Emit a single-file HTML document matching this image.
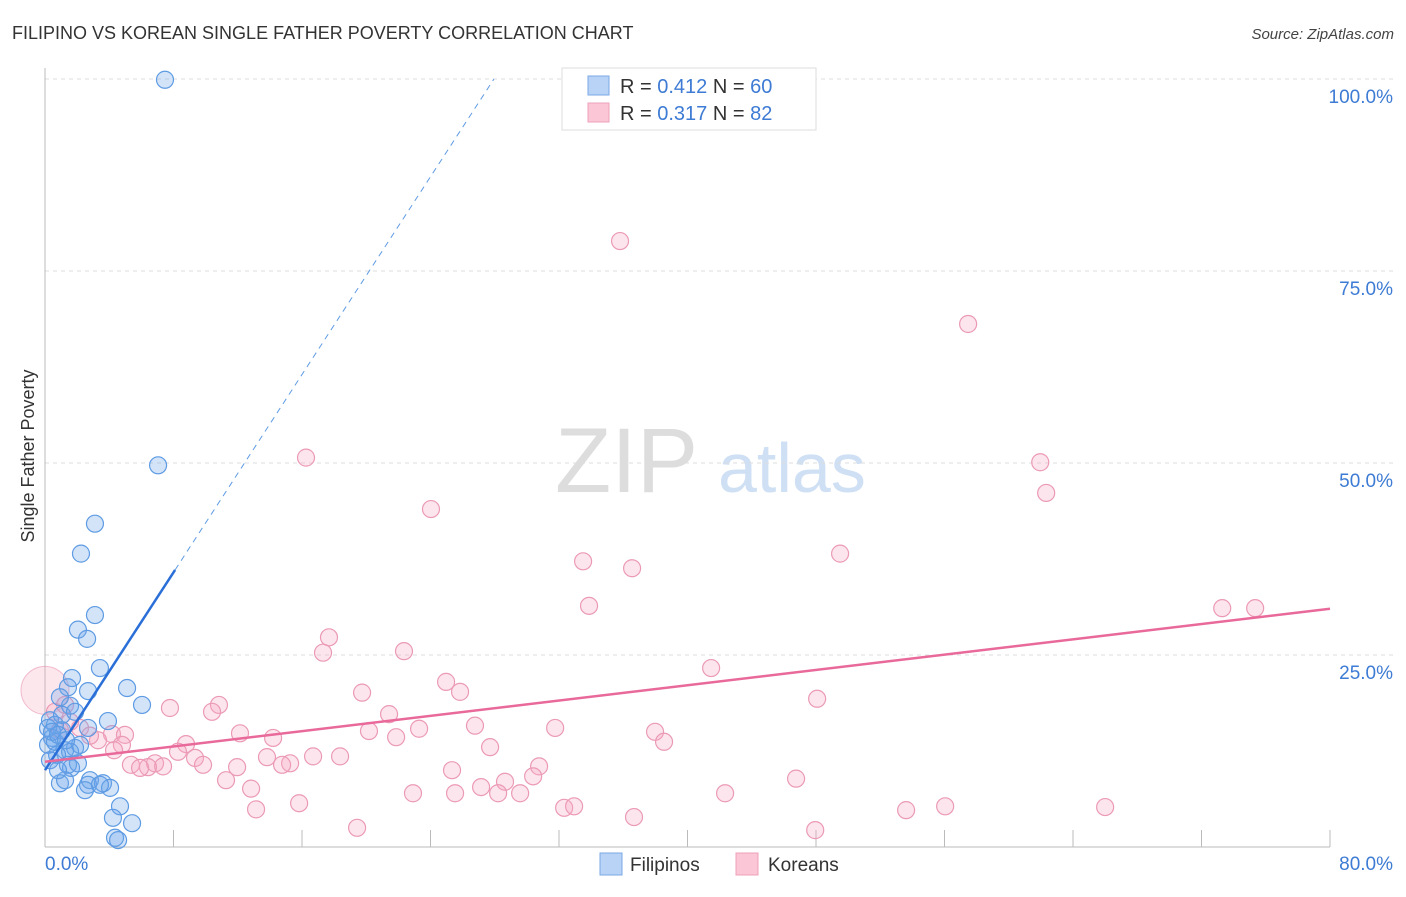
<!DOCTYPE html>
<html><head><meta charset="utf-8"><style>
body{margin:0;background:#fff;font-family:"Liberation Sans",sans-serif;}
svg text{font-family:"Liberation Sans",sans-serif;}
</style></head><body>
<svg id="chart" width="1406" height="892" xmlns="http://www.w3.org/2000/svg">
<text x="12" y="39" font-size="18" fill="#333">FILIPINO VS KOREAN SINGLE FATHER POVERTY CORRELATION CHART</text>
<text x="1394" y="39" font-size="15" fill="#444" text-anchor="end" font-style="italic">Source: ZipAtlas.com</text>
<g>
<text x="555" y="492" font-size="92" fill="#ddd" font-family="Liberation Serif, serif">ZIP</text>
<text x="718" y="492" font-size="70" fill="#cfe0f5">atlas</text>
</g>
<g id="grid"></g>
<g id="axes"></g>
<g id="pinkpts"></g>
<g id="bluepts"></g>
<g id="trends"></g>
<text transform="translate(34,456) rotate(-90)" font-size="18" fill="#333" text-anchor="middle">Single Father Poverty</text>
<g>
<rect x="562" y="68" width="254" height="62" fill="#fff" stroke="#ddd"/>
<rect x="588" y="76" width="21" height="19" fill="#b8d3f5" stroke="#7aaae6"/>
<text x="620" y="93" font-size="20" fill="#333">R = <tspan fill="#3d7bd4">0.412</tspan>   N = <tspan fill="#3d7bd4">60</tspan></text>
<rect x="588" y="103" width="21" height="19" fill="#fbc6d6" stroke="#eea0b8"/>
<text x="620" y="120" font-size="20" fill="#333">R = <tspan fill="#3d7bd4">0.317</tspan>   N = <tspan fill="#3d7bd4"> 82</tspan></text>
</g>
<g>
<rect x="600" y="853" width="22" height="22" fill="#b8d3f5" stroke="#7aaae6"/>
<text x="630" y="871" font-size="19" fill="#333">Filipinos</text>
<rect x="736" y="853" width="22" height="22" fill="#fbc6d6" stroke="#eea0b8"/>
<text x="768" y="871" font-size="19" fill="#333">Koreans</text>
</g>
</svg>
<script>
const yTicks=[25,50,75,100];
const yTickLabels=["25.0%","50.0%","75.0%","100.0%"];
const xTicks=[0,8,16,24,32,40,48,56,64,72,80];
const blueX=[7.47,7.04,3.11,2.24,3.11,2.05,2.62,3.42,1.68,1.43,5.11,2.68,6.04,1.56,0.93,3.92,2.68,0.31,0.62,1.06,0.44,0.19,1.87,1.25,1.56,0.75,1.43,2.05,1.62,2.80,2.68,3.61,4.05,0.93,2.49,1.25,4.67,4.23,5.42,4.36,4.55,0.31,0.62,1.06,1.87,2.18,0.19,0.44,0.81,1.31,0.81,3.42];
const blueY=[99.9,49.7,42.1,38.2,30.2,28.3,27.1,23.3,22.0,20.8,20.7,20.3,18.5,18.4,19.5,16.4,15.5,16.5,15.9,15.2,14.2,13.3,12.9,12.6,12.4,12.0,10.7,10.9,10.3,8.7,8.1,8.3,7.7,8.3,7.4,8.7,5.3,3.8,3.1,1.2,0.9,11.3,13.7,17.2,17.6,13.3,15.5,15.0,14.6,13.9,10.0,8.1];
const pinkX=[35.80,57.47,16.25,61.96,62.33,24.03,49.50,33.50,36.55,33.87,73.29,75.34,17.68,17.31,22.35,41.47,24.97,25.84,19.74,48.07,10.83,7.78,10.40,21.42,26.77,31.76,23.29,20.17,12.14,14.20,21.86,37.98,38.54,8.78,27.71,4.17,4.98,3.30,4.79,8.28,9.34,4.30,13.82,16.69,18.37,15.26,14.76,9.84,5.35,6.85,7.35,6.41,5.92,11.96,30.76,25.34,30.39,28.64,46.76,11.27,12.83,27.15,25.53,28.21,29.58,22.91,42.34,15.82,13.14,32.32,32.94,36.67,56.04,66.00,53.61,19.43,47.95,0.93,0.62,1.25,2.18,2.80,1.56];
const pinkY=[78.9,68.1,50.7,50.1,46.1,44.0,38.2,37.2,36.3,31.4,31.1,31.1,27.3,25.3,25.5,23.3,21.5,20.2,20.1,19.3,18.5,18.1,17.6,17.3,15.8,15.5,15.4,15.1,14.8,14.2,14.3,15.0,13.7,13.4,13.0,14.7,14.6,13.9,13.3,12.4,11.6,12.6,11.7,11.8,11.8,10.9,10.7,10.7,10.7,10.9,10.5,10.4,10.3,10.4,10.5,10.0,9.2,8.5,8.9,8.7,7.6,7.8,7.0,7.0,7.0,7.0,7.0,5.7,4.9,5.1,5.3,3.9,5.3,5.2,4.8,2.5,2.2,15.2,17.6,18.5,15.5,14.5,16.3];
const blueTrend=[10.0,3.22];   // intercept, slope
const pinkTrend=[11.1,0.249];
const NS="http://www.w3.org/2000/svg";
const X=v=>45+v*(1285/80), Y=v=>847-v*7.68;
function mk(tag,attrs,parent){const e=document.createElementNS(NS,tag);for(const k in attrs)e.setAttribute(k,attrs[k]);parent.appendChild(e);return e;}
const grid=document.getElementById('grid'),axes=document.getElementById('axes');
yTicks.forEach((t,i)=>{
 const l=mk('line',{x1:45,x2:1394,y1:Y(t),y2:Y(t),stroke:'#ddd','stroke-dasharray':'4,4'},grid);
 
 
 const tx=mk('text',{x:1393,y:Y(t)+24,'font-size':19,fill:'#3d7bd4','text-anchor':'end'},grid);
 tx.textContent=yTickLabels[i];
 
 
});
mk('line',{x1:45,x2:45,y1:68,y2:847,stroke:'#bbb'},axes);
mk('line',{x1:45,x2:1330,y1:847,y2:847,stroke:'#bbb'},axes);
xTicks.forEach(t=>{const l=mk('line',{x1:X(t),x2:X(t),y1:830,y2:847,stroke:'#bbb'},axes);
 
 });
let t0=mk('text',{x:45,y:870,'font-size':19,fill:'#3d7bd4'},axes);t0.textContent='0.0%';


let t1=mk('text',{x:1393,y:870,'font-size':19,fill:'#3d7bd4','text-anchor':'end'},axes);t1.textContent='80.0%';


const pp=document.getElementById('pinkpts');
const big=mk('circle',{cx:X(0),cy:Y(20.4),r:24,fill:'rgba(245,160,185,0.25)',stroke:'rgba(230,130,165,0.5)'},pp);


pinkX.forEach((x,i)=>{const c=mk('circle',{cx:X(x),cy:Y(pinkY[i]),r:8.5,fill:'rgba(248,170,195,0.3)',stroke:'#eb9ab5','stroke-width':1.2},pp);
 
 });
const bp=document.getElementById('bluepts');
blueX.forEach((x,i)=>{const c=mk('circle',{cx:X(x),cy:Y(blueY[i]),r:8.5,fill:'rgba(110,165,235,0.3)',stroke:'#5e9be3','stroke-width':1.2},bp);
 
 });
const tr=document.getElementById('trends');
const bEnd=8.1, bTop=(100-blueTrend[0])/blueTrend[1];
let l1=mk('line',{x1:X(0),y1:Y(blueTrend[0]),x2:X(bEnd),y2:Y(blueTrend[0]+blueTrend[1]*bEnd),stroke:'#2a6fd8','stroke-width':2.5},tr);


let l2=mk('line',{x1:X(bEnd),y1:Y(blueTrend[0]+blueTrend[1]*bEnd),x2:X(bTop),y2:Y(100),stroke:'#5e9be3','stroke-width':1,'stroke-dasharray':'6,5'},tr);


let l3=mk('line',{x1:X(0),y1:Y(pinkTrend[0]),x2:X(80),y2:Y(pinkTrend[0]+pinkTrend[1]*80),stroke:'#e8699a','stroke-width':2.5},tr);


</script>
</body></html>
